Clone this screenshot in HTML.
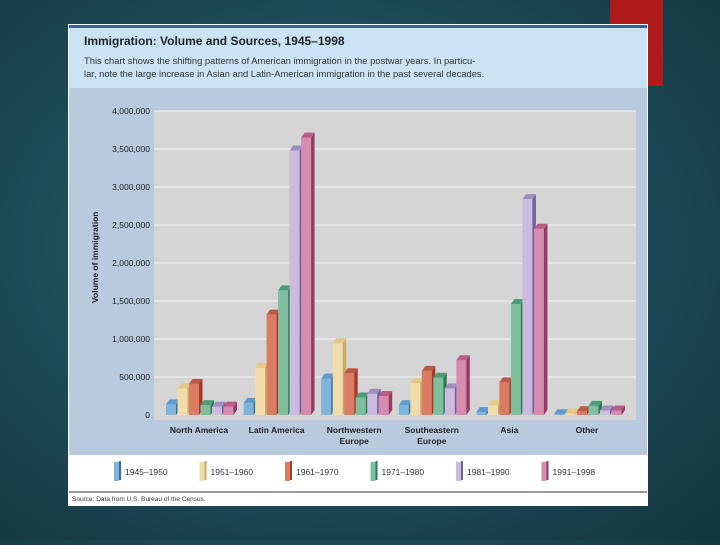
<!DOCTYPE html>
<html><head><meta charset="utf-8"><style>
html,body{margin:0;padding:0}
body{width:720px;height:540px;overflow:hidden;background:radial-gradient(ellipse at 45% 45%,#2f6670 0%,#1d4a57 55%,#123540 100%);font-family:"Liberation Sans",sans-serif}
</style></head><body>
<svg width="720" height="540" xmlns="http://www.w3.org/2000/svg">
<rect x="610" y="0" width="53" height="86" fill="#b01a1a"/>
<rect x="68" y="24" width="580" height="482" fill="#ffffff"/>
<rect x="69" y="25" width="578" height="3" fill="#3d5f9a"/>
<rect x="69" y="28" width="578" height="60" fill="#cae4f6"/>
<text x="84" y="45" font-size="12" font-weight="bold" fill="#222">Immigration: Volume and Sources, 1945–1998</text>
<text x="84" y="64" font-size="9.4" fill="#333">This chart shows the shifting patterns of American immigration in the postwar years. In particu-</text>
<text x="84" y="77" font-size="9.4" fill="#333">lar, note the large increase in Asian and Latin-American immigration in the past several decades.</text>
<rect x="69" y="88" width="578" height="367" fill="#b9cadf"/>
<rect x="154" y="111" width="482" height="309" fill="#d5d5d5"/>
<g id="grid"></g><g id="bars"></g><g id="labels"></g>
<text transform="translate(98,303) rotate(-90)" font-size="8.5" font-weight="bold" fill="#222">Volume of immigration</text>
<g id="legend"></g>
<line x1="69" y1="492" x2="647" y2="492" stroke="#333" stroke-width="1"/>
<text x="72" y="501" font-size="6.5" fill="#333">Source: Data from U.S. Bureau of the Census.</text>
</svg>
<script>
const categories=[["North America"],["Latin America"],["Northwestern","Europe"],["Southeastern","Europe"],["Asia"],["Other"]];
const periods=["1945–1950","1951–1960","1961–1970","1971–1980","1981–1990","1991–1998"];
const s1945=[140000,160000,480000,130000,40000,10000];
const s1951=[350000,620000,940000,420000,130000,20000];
const s1961=[410000,1320000,550000,580000,430000,50000];
const s1971=[130000,1640000,230000,490000,1460000,120000];
const s1981=[110000,3480000,280000,350000,2840000,60000];
const s1991=[110000,3650000,250000,720000,2450000,60000];
const series=[s1945,s1951,s1961,s1971,s1981,s1991];
const yTicks=[0,500000,1000000,1500000,2000000,2500000,3000000,3500000,4000000];
const front=["#80b4da","#f0ddab","#d97c62","#80bf9d","#cbbbdf","#d68bb0"];
const topc=["#5e9bcb","#e3c98a","#b85a45","#4f9d76","#9f8fc0","#b95d86"];
const side=["#2f6fa3","#c9aa60","#a8372a","#2a7a52","#6e5f98","#963a63"];
const NS="http://www.w3.org/2000/svg";
const y=v=>415-v*(304/4000000);
const gx=i=>166+i*77.6;
function mk(t,a,p){const e=document.createElementNS(NS,t);for(const k in a)e.setAttribute(k,a[k]);p.appendChild(e);return e;}
const grid=document.getElementById('grid'),bars=document.getElementById('bars'),labels=document.getElementById('labels'),legend=document.getElementById('legend');
yTicks.forEach(t=>{
 if(t>0){const l=mk('line',{x1:154,x2:636,y1:y(t),y2:y(t),stroke:'#f4f4f4','stroke-width':1},grid);
 
 }
 const tx=mk('text',{x:150,y:y(t)+3,'font-size':8.5,'text-anchor':'end',fill:'#222'},labels);
 tx.textContent=t.toLocaleString('en-US');
 
 
});
const bw=10,d=3.5;
categories.forEach((c,i)=>{
 series.forEach((s,j)=>{
  const x=gx(i)+j*11.5,top=y(s[i]),h=415-top;
  const g=mk('g',{},bars);
  
  
  mk('rect',{x:x,y:top,width:bw,height:h,fill:front[j]},g);
  mk('polygon',{points:`${x},${top} ${x+d},${top-5} ${x+bw+d},${top-5} ${x+bw},${top}`,fill:topc[j]},g);
  mk('polygon',{points:`${x+bw},${top} ${x+bw+d},${top-5} ${x+bw+d},${415-5} ${x+bw},415`,fill:side[j]},g);
 });
 c.forEach((ln,k)=>{
  const t=mk('text',{x:gx(i)+33,y:433+k*11,'font-size':8.5,'font-weight':'bold','text-anchor':'middle',fill:'#222'},labels);
  t.textContent=ln;
  
  
 });
});
periods.forEach((p,j)=>{
 const x=114+j*85.5;
 const g=mk('g',{},legend);
 
 
 mk('rect',{x:x,y:462,width:5,height:19,fill:front[j]},g);
 mk('rect',{x:x+5,y:461,width:2,height:19,fill:side[j]},g);
 const t=mk('text',{x:x+11,y:475,'font-size':8.5,fill:'#333'},g);
 t.textContent=p;
});
</script>
</body></html>
